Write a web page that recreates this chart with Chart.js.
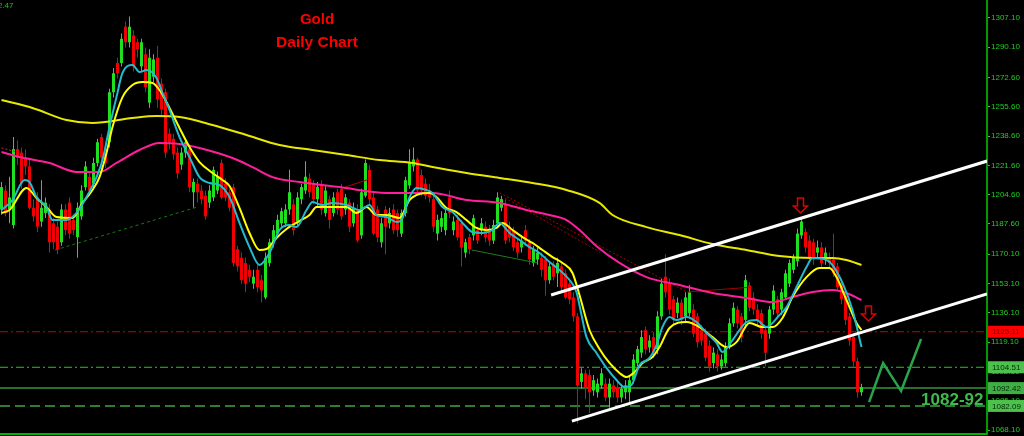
<!DOCTYPE html>
<html>
<head>
<meta charset="utf-8">
<script src="https://cdn.jsdelivr.net/npm/chart.js@4.4.1/dist/chart.umd.min.js"></script>
<style>
  html, body { margin: 0; padding: 0; background: #000; }
  #wrap { width: 1024px; height: 436px; }
</style>
</head>
<body>
<div id="wrap"><canvas id="graficoOuro" width="1024" height="436"></canvas></div>
<script>
// gold daily candles, oldest first
var opens = [1196,1207,1196,1187,1231,1229,1226,1221,1197,1203,
  1189,1194,1196,1188,1186,1177,1196,1200,1190,1180,
  1192,1209,1215,1211,1223,1238,1231,1235,1264,1281,
  1281,1302,1293,1297,1293,1279,1286,1258,1273,1284,
  1269,1264,1240,1237,1229,1222,1229,1231,1206,1211,
  1207,1204,1200,1203,1207,1223,1211,1206,1209,1173,
  1168,1165,1161,1153,1161,1155,1145,1165,1177,1182,
  1188,1188,1196,1199,
  1189,1202,1207,1214,1211,1202,1210,1194,1202,1194,
  1206,1208,1196,1200,1188,1196,1181,1204,1219,1203,
  1196,1177,1196,1188,1196,1194,1182,1194,1210,1221,
  1225,1216,1211,1207,1202,1182,1186,1184,1203,1184,
  1190,1188,1171,1180,1181,1184,1184,1186,1184,1178,
  1188,1197,1199,1186,1184,1177,1174,1184,1177,1165,
  1167,1168,1167,1155,1164,1159,1163,1159,1153,1145,
  1134,1096,1101,1100,1091,1090,1094,1095,1087,1094,
  1093,1087,1090,1090,1097,1107,1113,1126,1116,1122,
  1115,1134,1157,1153,1144,1136,1142,1134,1136,1138,
  1134,1126,1124,1117,1107,1112,1105,1107,1116,1130,
  1138,1134,1132,1152,1145,1138,1136,1126,1124,1138,
  1144,1138,1145,1153,1161,1166,1181,1183,1178,1177,
  1171,1174,1167,1168,1167,1163,1153,1146,1134,1122,
  1108,1090];
var highs = [1212,1210,1215,1238,1236,1232,1231,1225,1202,1206,
  1213,1203,1199,1191,1189,1199,1199,1203,1193,1200,
  1210,1224,1218,1226,1237,1240,1233,1266,1278,1284,
  1298,1305,1308,1300,1295,1295,1290,1289,1286,1291,
  1272,1266,1243,1240,1232,1232,1237,1233,1214,1214,
  1210,1207,1210,1221,1218,1225,1214,1208,1211,1175,
  1171,1168,1164,1161,1164,1158,1171,1179,1187,1193,
  1197,1199,1219,1202,
  1206,1211,1224,1217,1213,1212,1213,1210,1204,1206,
  1208,1211,1205,1202,1200,1199,1208,1225,1222,1206,
  1198,1191,1198,1197,1199,1196,1196,1215,1231,1232,
  1226,1219,1214,1211,1204,1193,1195,1197,1207,1192,
  1193,1190,1179,1182,1193,1186,1191,1189,1187,1190,
  1206,1204,1202,1189,1186,1179,1181,1187,1179,1175,
  1174,1171,1169,1166,1166,1168,1165,1161,1156,1148,
  1136,1104,1103,1103,1100,1098,1104,1098,1098,1097,
  1096,1095,1097,1099,1112,1117,1126,1128,1123,1125,
  1137,1156,1170,1156,1146,1145,1144,1148,1152,1141,
  1136,1129,1127,1120,1116,1115,1112,1119,1133,1142,
  1140,1136,1158,1154,1148,1141,1138,1128,1140,1152,
  1146,1150,1161,1167,1170,1185,1191,1185,1181,1179,
  1178,1177,1174,1171,1182,1165,1156,1149,1136,1124,
  1110,1095];
var lows = [1193,1192,1188,1185,1222,1208,1216,1196,1189,1183,
  1186,1191,1171,1173,1170,1175,1181,1179,1181,1168,
  1190,1207,1204,1209,1221,1219,1220,1232,1261,1272,
  1279,1290,1290,1276,1284,1276,1264,1255,1270,1255,
  1251,1226,1231,1225,1214,1219,1226,1206,1197,1200,
  1199,1190,1197,1201,1205,1202,1201,1195,1163,1160,
  1153,1148,1154,1150,1148,1142,1144,1163,1174,1181,
  1186,1186,1193,1181,
  1186,1199,1205,1203,1199,1198,1193,1192,1185,1192,
  1193,1190,1193,1183,1186,1177,1179,1203,1199,1181,
  1177,1174,1170,1185,1182,1180,1180,1192,1208,1218,
  1205,1204,1202,1200,1183,1178,1183,1181,1191,1181,
  1178,1163,1168,1170,1178,1176,1181,1177,1175,1176,
  1186,1195,1176,1177,1172,1168,1171,1175,1164,1163,
  1164,1157,1146,1153,1155,1151,1149,1144,1141,1131,
  1072,1092,1086,1078,1088,1087,1092,1085,1081,1087,
  1084,1084,1086,1084,1095,1105,1110,1112,1113,1110,
  1112,1132,1145,1135,1129,1133,1129,1131,1134,1122,
  1116,1117,1108,1102,1104,1102,1103,1105,1115,1128,
  1127,1119,1129,1137,1135,1129,1121,1105,1121,1135,
  1133,1135,1144,1151,1159,1163,1179,1171,1166,1164,
  1168,1162,1164,1162,1157,1149,1141,1129,1117,1105,
  1087,1088];
var closes = [1209,1194,1203,1231,1226,1211,1221,1197,1192,1186,
  1197,1200,1177,1177,1173,1196,1184,1182,1184,1197,
  1207,1221,1207,1223,1235,1226,1223,1264,1275,1275,
  1295,1293,1302,1279,1289,1293,1267,1284,1283,1260,
  1254,1229,1235,1228,1217,1229,1235,1209,1212,1206,
  1202,1192,1207,1219,1215,1203,1203,1197,1165,1163,
  1155,1153,1157,1157,1151,1149,1168,1177,1184,1190,
  1195,1196,1206,1184,
  1203,1209,1215,1206,1202,1209,1196,1207,1190,1203,
  1196,1192,1203,1186,1197,1178,1206,1223,1202,1182,
  1180,1188,1186,1194,1184,1184,1194,1213,1223,1225,
  1207,1207,1204,1203,1186,1190,1191,1194,1194,1189,
  1180,1174,1177,1173,1191,1178,1188,1180,1178,1187,
  1203,1202,1178,1180,1174,1171,1178,1178,1167,1173,
  1171,1161,1155,1163,1157,1165,1151,1145,1144,1134,
  1094,1101,1093,1090,1097,1095,1101,1087,1095,1090,
  1087,1092,1094,1097,1109,1115,1122,1115,1120,1113,
  1134,1153,1148,1138,1132,1142,1132,1145,1148,1124,
  1119,1120,1110,1105,1113,1105,1109,1116,1130,1139,
  1130,1122,1155,1139,1138,1132,1124,1113,1138,1149,
  1136,1148,1159,1165,1168,1182,1189,1174,1168,1167,
  1174,1165,1171,1165,1159,1151,1144,1132,1120,1108,
  1090,1093];

// price axis labels
var yTicks = [1307.1,1290.1,1272.6,1255.6,1238.6,1221.6,1204.6,1187.6,1170.1,1153.1,1136.1,1119.1,1102.1,1085.1,1068.1];

// moving averages [bar index, price]
var maCyan = [[0,1195.7],[2.75,1201.5],[5.75,1213.1],[7,1211.9],[8.75,1203.2],[11.25,1197.4],[12.75,1189.9],[16.25,1189.9],[18.75,1194.0],[21.25,1203.2],[23.75,1214.8],[25.25,1224.7],[27,1243.8],[28.75,1261.2],[30.25,1275.2],[32.75,1279.8],[34.5,1275.7],[36.25,1276.9],[38.75,1272.3],[40.25,1263.6],[42,1253.7],[44.5,1238.0],[47,1226.4],[49.5,1214.8],[52,1211.4],[54.5,1210.2],[57,1203.2],[59.5,1188.2],[62,1174.2],[64.5,1163.8],[67,1170.8],[69.5,1184.1],[72,1187.0],[73.75,1185.8],[76.25,1195.7],[77.75,1200.3],[80.25,1198.6],[82.75,1199.8],[86.25,1198.6],[89.5,1195.7],[92,1198.6],[93.75,1192.8],[96.25,1191.6],[98.75,1188.7],[100,1189.9],[102,1203.2],[103.75,1208.5],[106.25,1207.3],[107.75,1205.6],[110.25,1197.4],[112.75,1194.5],[115.25,1188.2],[117.75,1182.9],[120.25,1182.4],[122.75,1184.1],[124.5,1188.2],[127,1182.4],[129.5,1178.3],[132,1174.2],[134.5,1170.8],[137,1165.5],[139.5,1160.9],[142,1155.1],[143.75,1148.1],[145,1134.8],[146.25,1122.0],[148.75,1112.8],[151.25,1104.1],[153.75,1097.1],[155.75,1093.0],[157.5,1094.2],[159.5,1105.8],[162,1109.9],[163.75,1117.4],[165.25,1127.9],[167,1133.6],[168.75,1131.9],[171.25,1133.6],[173.75,1130.7],[176.25,1124.4],[178.75,1118.6],[180.25,1113.3],[182.75,1120.3],[186.25,1130.7],[188.75,1131.9],[191.25,1127.9],[194.5,1134.8],[196.25,1139.4],[198.75,1151.0],[201.25,1162.6],[202.75,1167.9],[206.25,1166.7],[207.75,1163.8],[210.25,1153.4],[212.75,1137.7],[215,1116.2]];
var maYellow = [[0,1194.0],[2,1195.7],[6.25,1208.5],[8.75,1202.7],[11.25,1197.4],[13.75,1191.6],[17.75,1191.1],[20.25,1199.8],[22.75,1207.3],[24.5,1214.8],[26.25,1228.8],[27.75,1243.8],[30.25,1261.2],[32.75,1268.2],[35.25,1269.9],[37.75,1269.4],[39.5,1265.3],[42,1254.9],[44.5,1243.3],[47,1232.2],[49.5,1223.5],[52.75,1217.2],[55.25,1213.1],[57,1209.6],[59.5,1196.9],[62,1182.4],[64.5,1172.5],[66.25,1173.1],[68.75,1179.5],[71.25,1184.7],[74.5,1189.3],[77,1192.8],[78.75,1197.4],[82,1197.4],[86.25,1197.4],[88.75,1194.0],[91.25,1197.4],[93.75,1192.8],[96.25,1192.8],[99.5,1191.1],[102,1201.5],[104.5,1205.0],[107,1205.6],[108.75,1203.2],[111.25,1196.9],[113.75,1194.5],[116.25,1189.9],[118.75,1185.3],[121.25,1184.1],[123.75,1185.3],[125.25,1188.2],[127.75,1184.1],[130.25,1180.0],[132.75,1176.6],[135.25,1172.5],[137.75,1168.4],[140.25,1165.0],[142.75,1159.2],[144.5,1146.4],[147,1126.1],[149.5,1115.1],[152,1107.0],[154.5,1101.2],[156.25,1098.8],[158.25,1101.7],[160.25,1107.0],[162.75,1110.4],[164.5,1116.2],[167,1127.3],[171.25,1130.7],[174.5,1127.8],[177.75,1122.0],[181.25,1116.2],[183.75,1119.1],[187,1130.2],[190.25,1127.8],[192.75,1127.8],[195.25,1133.1],[197.75,1145.2],[201.25,1156.8],[204.5,1162.1],[207,1162.1],[208.75,1156.8],[211.25,1143.5],[213.75,1130.2],[215,1126.1]];
var ma100 = [[0,1229.3],[4.5,1226.4],[12,1223.0],[18.75,1217.8],[24.5,1217.8],[28.75,1223.0],[34.5,1230.5],[39.5,1234.6],[44.5,1234.0],[49.5,1231.7],[57.75,1225.9],[62.75,1220.6],[67.75,1214.8],[74.5,1211.9],[84.5,1209.0],[96.25,1205.6],[102.75,1205.6],[107.75,1205.6],[116.25,1201.5],[124.5,1199.8],[131.25,1195.7],[137,1192.8],[141.25,1189.9],[144.5,1184.1],[149,1174.2],[154.5,1165.0],[161.25,1156.8],[169.5,1152.2],[177.75,1147.6],[186.25,1144.7],[192.75,1142.3],[197.75,1145.2],[202.75,1148.1],[207.75,1149.3],[211.25,1147.6],[215,1143.5]];
var ma200 = [[0,1259.5],[7.75,1254.9],[16.25,1247.9],[22.75,1246.2],[32.75,1249.1],[38.75,1250.2],[44.5,1249.6],[52.75,1245.0],[61.25,1239.2],[69.5,1233.4],[77.75,1230.5],[86.25,1227.6],[94.5,1224.7],[102.75,1223.0],[107.75,1220.6],[116.25,1217.2],[124.5,1214.3],[132.75,1211.4],[141.25,1207.3],[149.5,1199.8],[152.75,1192.8],[161.25,1185.8],[169.5,1181.2],[177.75,1176.0],[186.25,1172.5],[194.5,1169.0],[202.75,1167.9],[207.75,1167.9],[211.25,1166.7],[215,1163.8]];

// drawn objects [bar index, price]
var channelTop = [[137.4,1146.4],[246.4,1224.1]];
var channelBottom = [[142.6,1073.3],[246.4,1147.0]];
var forecast = [[216.9,1084.3],[220.4,1107.0],[224.9,1090.7],[229.9,1120.9]];
var trendGreenA = [[13.4,1172.5],[48.9,1197.4]];
var trendGreenB = [[117.6,1172.5],[133.9,1165.0]];
var trendRedDotA = [[124.6,1205.6],[171.4,1148.1]];
var trendRedDotB = [[125.9,1202.7],[149.6,1171.3]];
var trendRedSolid = [[171.4,1148.1],[187.6,1151.0]];
var trendRedSmall = [[85.9,1209.0],[92.1,1213.7]];
var trendRedLeft = [[0,1231.7],[3.9,1229.3]];
var arrowMarks = [[199.6,1194.0],[216.6,1131.3]];
var levelRed = 1125.11;
var levelGreenHi = 1104.51;
var levelGreenMid = 1092.42;
var levelGreenLo = 1082.09;
var targetText = '1082-92';
var targetAt = [229.9, 1082.6];

var xMin = -0.375, xMax = 246.375;
var verde = '#1fe01f', vermelho = '#f00000';

function pontos(lista) {
  return lista.map(function (p) { return { x: p[0], y: p[1] }; });
}

function linha(lista, cor, largura, tracejado, ordem, suave) {
  return {
    type: 'line',
    data: pontos(lista),
    borderColor: cor,
    borderWidth: largura,
    borderDash: tracejado || [],
    pointRadius: 0,
    fill: false,
    order: ordem,
    cubicInterpolationMode: suave ? 'monotone' : 'default',
    tension: 0
  };
}

function nivel(valor, cor, largura, tracejado) {
  return linha([[xMin, valor], [xMax, valor]], cor, largura, tracejado, 12, false);
}

var corCandle = opens.map(function (o, i) { return closes[i] >= o ? verde : vermelho; });

var corpos = {
  type: 'bar',
  data: opens.map(function (o, i) { return { x: i, y: [o, closes[i]] }; }),
  backgroundColor: corCandle,
  barThickness: 3,
  grouped: false,
  minBarLength: 1,
  borderWidth: 0,
  inflateAmount: 0,
  order: 10
};
var pavios = {
  type: 'bar',
  data: lows.map(function (l, i) { return { x: i, y: [l, highs[i]] }; }),
  backgroundColor: corCandle,
  barThickness: 1,
  grouped: false,
  borderWidth: 0,
  inflateAmount: 0,
  order: 11
};

function seta(ctx, cx, ponta) {
  ctx.beginPath();
  ctx.moveTo(cx - 3, ponta - 15);
  ctx.lineTo(cx + 3, ponta - 15);
  ctx.lineTo(cx + 3, ponta - 7);
  ctx.lineTo(cx + 7, ponta - 7);
  ctx.lineTo(cx, ponta);
  ctx.lineTo(cx - 7, ponta - 7);
  ctx.lineTo(cx - 3, ponta - 7);
  ctx.closePath();
  ctx.stroke();
}

function caixa(ctx, y, valor, fundo, corTexto) {
  ctx.fillStyle = fundo;
  ctx.fillRect(988, y - 6, 36, 12);
  ctx.fillStyle = corTexto;
  ctx.font = '8px "Liberation Sans"';
  ctx.textAlign = 'left';
  ctx.textBaseline = 'middle';
  ctx.fillText(valor.toFixed(2), 992, y + 0.5);
}

var extras = {
  id: 'extras',
  beforeDraw: function (chart) {
    var ctx = chart.ctx;
    ctx.save();
    ctx.fillStyle = '#000';
    ctx.fillRect(0, 0, chart.width, chart.height);
    ctx.restore();
  },
  afterDraw: function (chart) {
    var ctx = chart.ctx, xs = chart.scales.x, ys = chart.scales.y, area = chart.chartArea;
    ctx.save();
    // bottom border
    ctx.strokeStyle = '#00b400';
    ctx.lineWidth = 2;
    ctx.beginPath();
    ctx.moveTo(0, area.bottom);
    ctx.lineTo(area.right, area.bottom);
    ctx.stroke();

    // level labels on the price axis
    caixa(ctx, ys.getPixelForValue(levelRed), levelRed, '#ff0000', '#700000');
    caixa(ctx, ys.getPixelForValue(levelGreenHi), levelGreenHi, '#4cc24c', '#062806');
    caixa(ctx, ys.getPixelForValue(levelGreenMid), levelGreenMid, '#3fae45', '#062806');
    caixa(ctx, ys.getPixelForValue(levelGreenLo), levelGreenLo, '#4cc24c', '#062806');

    // arrows
    ctx.strokeStyle = '#e00000';
    ctx.lineWidth = 1.5;
    arrowMarks.forEach(function (a) {
      seta(ctx, Math.round(xs.getPixelForValue(a[0])) + 0.5, ys.getPixelForValue(a[1]));
    });

    // title
    ctx.fillStyle = '#ff0000';
    ctx.textAlign = 'center';
    ctx.textBaseline = 'alphabetic';
    ctx.font = 'bold 15px "Liberation Sans"';
    ctx.fillText('Gold', 317, 24);
    ctx.font = 'bold 15.5px "Liberation Sans"';
    ctx.fillText('Daily Chart', 317, 47);

    // target text
    ctx.fillStyle = '#3dbb4a';
    ctx.textAlign = 'left';
    ctx.font = 'bold 17px "Liberation Sans"';
    ctx.fillText(targetText, xs.getPixelForValue(targetAt[0]), ys.getPixelForValue(targetAt[1]));

    // clipped price readout top-left
    ctx.fillStyle = '#19c819';
    ctx.textAlign = 'right';
    ctx.font = '8px "Liberation Sans"';
    ctx.fillText('1222.47', 13.5, 8);
    ctx.restore();
  }
};

new Chart(document.getElementById('graficoOuro'), {
  type: 'bar',
  data: {
    datasets: [
      linha(forecast, '#2aa44a', 2.5, [], 1, false),
      linha(channelTop, '#ffffff', 3, [], 2, false),
      linha(channelBottom, '#ffffff', 3, [], 2, false),
      linha(maCyan, '#22bcd0', 2, [], 4, true),
      linha(maYellow, '#ffff00', 2, [], 5, true),
      linha(ma100, '#ff1e9b', 2, [], 6, true),
      linha(ma200, '#e8e800', 2, [], 6, true),
      linha(trendGreenA, '#1a7a1a', 1, [3, 3], 9, false),
      linha(trendGreenB, '#1e7b1e', 1, [], 9, false),
      linha(trendRedDotA, '#b00000', 1, [2, 2], 9, false),
      linha(trendRedDotB, '#a00000', 1, [2, 2], 9, false),
      linha(trendRedSolid, '#a00000', 1, [], 9, false),
      linha(trendRedSmall, '#b00000', 1, [], 9, false),
      linha(trendRedLeft, '#c03030', 1, [2, 2], 9, false),
      corpos,
      pavios,
      nivel(levelRed, '#c80000', 1, [8, 3, 2, 3]),
      nivel(levelGreenHi, '#28c828', 1, [8, 3, 2, 3]),
      nivel(levelGreenMid, '#2b6e2b', 2, []),
      nivel(levelGreenLo, '#2e7d32', 2, [10, 5])
    ]
  },
  options: {
    responsive: false,
    animation: false,
    events: [],
    layout: { padding: { left: 0, right: 0, top: 0, bottom: 2 } },
    scales: {
      x: {
        type: 'linear',
        min: xMin,
        max: xMax,
        offset: false,
        display: false,
        grid: { display: false, offset: false }
      },
      y: {
        type: 'linear',
        position: 'right',
        min: 1065.8,
        max: 1317.5,
        beginAtZero: false,
        afterBuildTicks: function (scale) {
          scale.ticks = yTicks.map(function (v) { return { value: v }; });
        },
        afterFit: function (scale) {
          scale.width = 37;
          scale.paddingTop = 0;
          scale.paddingBottom = 0;
        },
        border: { display: true, color: '#009900', width: 2 },
        grid: { drawOnChartArea: false, drawTicks: true, tickLength: 3, tickColor: '#1fd01f' },
        ticks: {
          color: '#1fd01f',
          padding: 1,
          autoSkip: false,
          font: { family: '"Liberation Sans"', size: 8 },
          callback: function (v) { return Number(v).toFixed(2); }
        }
      }
    },
    plugins: {
      legend: { display: false },
      tooltip: { enabled: false },
      title: { display: false }
    }
  },
  plugins: [extras]
});
</script>
</body>
</html>
